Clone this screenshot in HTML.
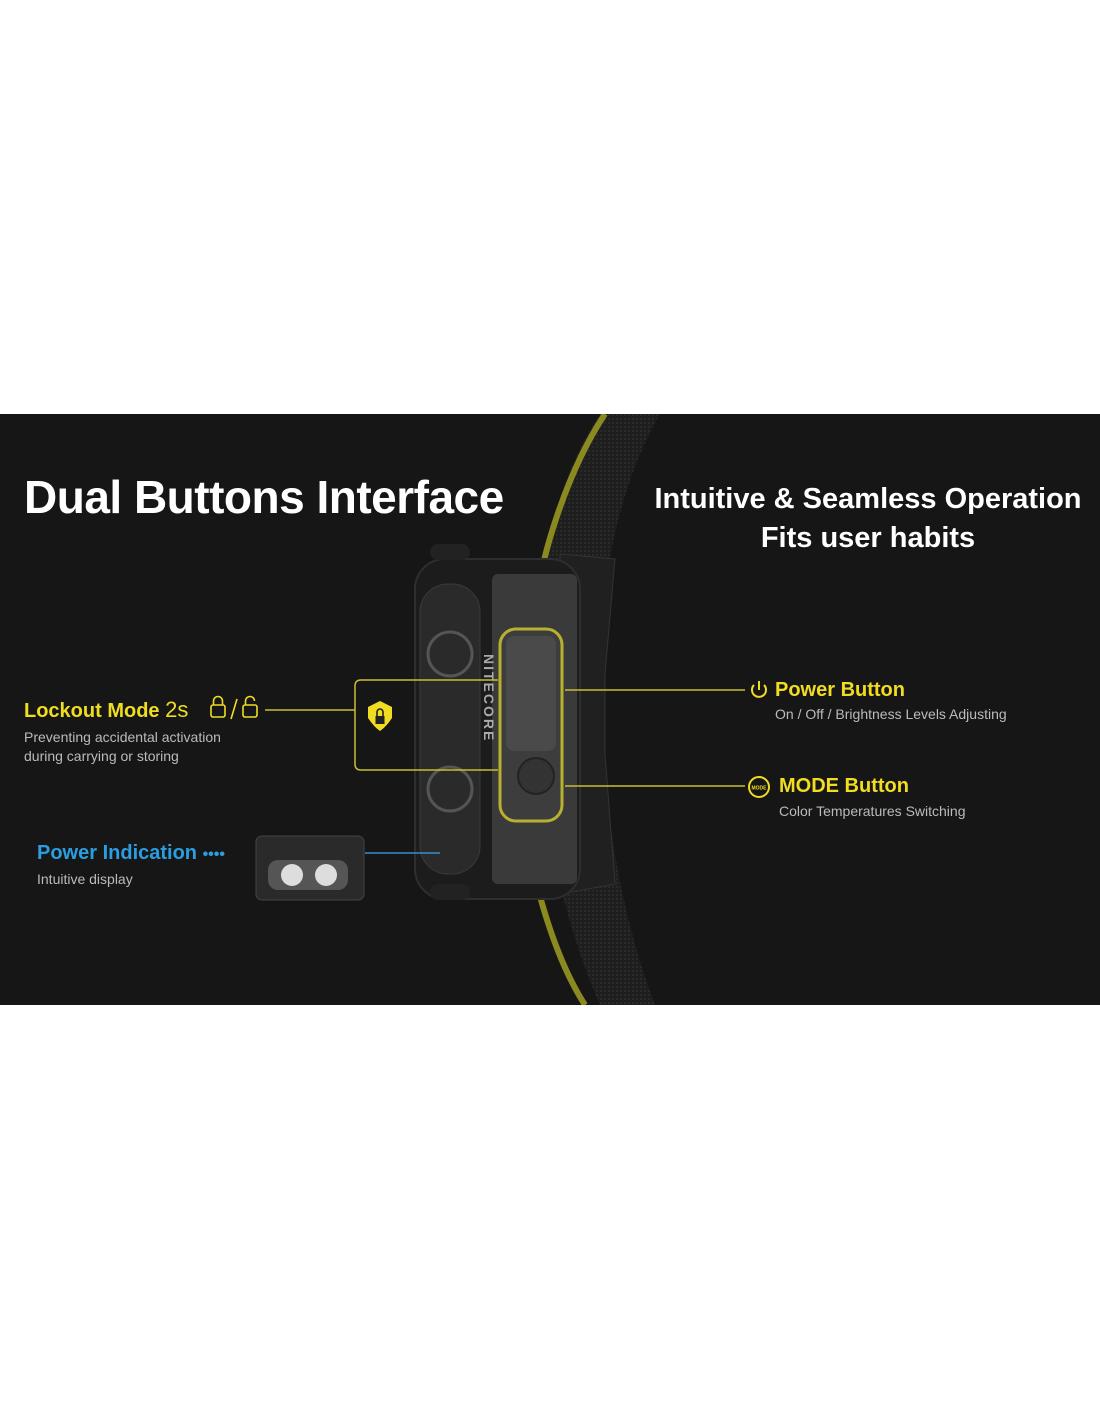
<!DOCTYPE html>
<html><head><meta charset="utf-8"><style>
body{margin:0;background:#fff;width:1100px;height:1422px;position:relative;overflow:hidden;font-family:"Liberation Sans",sans-serif}
.band{position:absolute;left:0;top:414px;width:1100px;height:591px;background:#161616;overflow:hidden}
.t{position:absolute;white-space:nowrap}
</style></head><body>
<div class="band">
<svg width="1100" height="591" style="position:absolute;left:0;top:0">
 <defs><pattern id="p" width="4" height="4" patternUnits="userSpaceOnUse"><rect width="4" height="4" fill="#1e1e1e"/><rect width="2" height="2" fill="#2a2a2a"/></pattern></defs>
 <path d="M600 0 C560 60 535 150 535 260 C535 380 560 500 600 591 L655 591 C620 500 600 380 600 260 C600 150 625 60 660 0 Z" fill="url(#p)"/>
 <path d="M605 0 C565 60 540 150 538 180" stroke="#8a8a20" stroke-width="6" fill="none"/>
 <path d="M538 475 C550 520 565 560 585 591" stroke="#8a8a20" stroke-width="6" fill="none"/>
 <path d="M560 140 L615 145 L605 260 L605 340 L615 470 L560 480 Z" fill="#202020" stroke="#333" />
 <rect x="415" y="145" width="165" height="340" rx="30" fill="#1c1c1c" stroke="#2e2e2e" stroke-width="2"/>
 <rect x="420" y="170" width="60" height="290" rx="28" fill="#2a2a2a" stroke="#3a3a3a"/>
 <circle cx="450" cy="240" r="22" fill="none" stroke="#555" stroke-width="3"/>
 <circle cx="450" cy="375" r="22" fill="none" stroke="#555" stroke-width="3"/>
 <rect x="492" y="160" width="85" height="310" rx="6" fill="#3a3a3a"/>
 <rect x="500" y="215" width="62" height="192" rx="16" fill="#3d3d3d" stroke="#b8b030" stroke-width="3"/>
 <rect x="506" y="222" width="50" height="115" rx="8" fill="#4a4a4a"/>
 <circle cx="536" cy="362" r="18" fill="#333" stroke="#222" stroke-width="2"/>
 <text x="484" y="240" fill="#aaa" font-size="14" font-weight="bold" font-family="Liberation Sans" transform="rotate(90 484 240)" letter-spacing="2">NITECORE</text>
 <rect x="430" y="130" width="40" height="16" rx="8" fill="#222"/>
 <rect x="430" y="470" width="40" height="16" rx="8" fill="#222"/>
 <path d="M265 296 H355 M355 272 V350 M355 272 Q355 266 361 266 H498 M355 350 Q355 356 361 356 H498" stroke="#c8c030" stroke-width="1.5" fill="none"/>
 <path d="M368 293 L380 287 L392 293 L392 304 Q386 313 380 317 Q374 313 368 304 Z" fill="#f0dc20"/>
 <rect x="375.5" y="302" width="9" height="8" fill="#222"/>
 <path d="M377 302 V298 A3 3 0 0 1 383 298 V302" stroke="#222" stroke-width="1.6" fill="none"/>
 <path d="M565 276 H745 M565 372 H745" stroke="#c8c030" stroke-width="1.5"/>
 <path d="M365 439 H440" stroke="#3a8ccc" stroke-width="1.5"/>
 <circle cx="759" cy="373" r="10" fill="none" stroke="#f0dc20" stroke-width="2"/>
 <text x="759" y="375.5" fill="#f0dc20" font-size="5" font-weight="bold" text-anchor="middle" font-family="Liberation Sans">MODE</text>
 <path d="M754 271 A7 7 0 1 0 764 271 M759 267 V276" stroke="#f0dc20" stroke-width="2" fill="none"/>
 <!-- lock icons -->
 <g stroke="#f0dc20" stroke-width="1.6" fill="none">
  <rect x="211" y="291" width="14" height="12" rx="2"/><path d="M213.5 291 V287 A4.5 4.5 0 0 1 222.5 287 V291"/>
  <path d="M231 305 L237 285"/>
  <rect x="243" y="291" width="14" height="12" rx="2"/><path d="M245.5 291 V287 A4.5 4.5 0 0 1 254.5 287"/>
 </g>
 <rect x="256" y="422" width="108" height="64" rx="6" fill="#2a2a2a" stroke="#444"/>
 <rect x="268" y="446" width="80" height="30" rx="10" fill="#555"/>
 <circle cx="292" cy="461" r="11" fill="#ddd"/><circle cx="326" cy="461" r="11" fill="#ddd"/>
</svg>
<div class="t" style="left:24px;top:56px;font-size:46px;font-weight:bold;color:#fff;letter-spacing:-0.5px">Dual Buttons Interface</div>
<div class="t" style="left:648px;top:66px;width:440px;text-align:center;font-size:29px;font-weight:bold;color:#fff;line-height:39px">Intuitive &amp; Seamless Operation<br>Fits user habits</div>
<div class="t" style="left:24px;top:283px;font-size:20px;font-weight:bold;color:#f0dc20">Lockout Mode <span style="font-weight:normal;font-size:22px">2s</span></div>
<div class="t" style="left:24px;top:314px;font-size:14px;color:#bbb;line-height:19px">Preventing accidental activation<br>during carrying or storing</div>
<div class="t" style="left:775px;top:265px;font-size:20px;font-weight:bold;color:#f0dc20">Power Button</div>
<div class="t" style="left:775px;top:292px;font-size:14px;color:#bbb">On / Off / Brightness Levels Adjusting</div>
<div class="t" style="left:779px;top:361px;font-size:20px;font-weight:bold;color:#f0dc20">MODE Button</div>
<div class="t" style="left:779px;top:389px;font-size:14px;color:#bbb">Color Temperatures Switching</div>
<div class="t" style="left:37px;top:428px;font-size:20px;font-weight:bold;color:#2a9ee0">Power Indication <span style="font-size:16px">••••</span></div>
<div class="t" style="left:37px;top:457px;font-size:14px;color:#bbb">Intuitive display</div>
</div>
</body></html>
